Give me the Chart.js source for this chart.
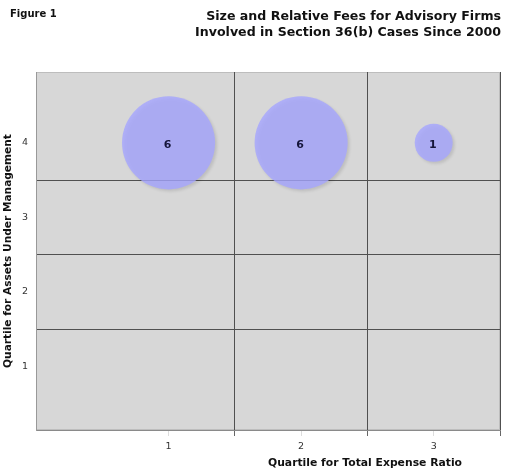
<!DOCTYPE html>
<html>
<head>
<meta charset="utf-8">
<script src="https://cdn.jsdelivr.net/npm/chart.js@4/dist/chart.umd.min.js"></script>
<style>
  body { margin: 0; background: #fff; }
  canvas { display: block; }
</style>
</head>
<body>
<canvas id="bubbleChart" width="505" height="471"></canvas>
<script>
// chart data
const expenseQuartiles = [1, 2, 3];
const assetQuartiles = [4, 4, 4];
const firmCounts = [6, 6, 1];
const xTickValues = [1, 1.5, 2, 2.5, 3, 3.5];
const yTickValues = [1, 1.5, 2, 2.5, 3, 3.5, 4];
const titleLines = ['Size and Relative Fees for Advisory Firms', 'Involved in Section 36(b) Cases Since 2000'];

const FONT = '"DejaVu Sans", Verdana, sans-serif';

const bubbleData = expenseQuartiles.map((x, i) => ({ x: x, y: assetQuartiles[i], n: firmCounts[i] }));

const isWhole = v => Number.isInteger(v);

// bubble controller that does not push the plot area in to fit big bubbles
class CountBubbleController extends Chart.BubbleController {
    getMaxOverflow() { return 0; }
}
CountBubbleController.id = 'countBubble';
CountBubbleController.defaults = Chart.BubbleController.defaults;
CountBubbleController.overrides = Chart.BubbleController.overrides;
Chart.register(CountBubbleController);

// grey plot background with light outline
const plotBackground = {
    id: 'plotBackground',
    beforeDraw(chart) {
        const { ctx, chartArea: a } = chart;
        ctx.save();
        ctx.fillStyle = '#d7d7d7';
        ctx.fillRect(a.left, a.top, a.right - a.left, a.bottom - a.top);
        ctx.strokeStyle = '#bdbdbd';
        ctx.lineWidth = 1;
        ctx.strokeRect(a.left + 0.5, a.top + 0.5, a.right - a.left - 1, a.bottom - a.top - 1);
        ctx.restore();
    }
};

// soft shadow under the bubbles + count labels
const bubbleExtras = {
    id: 'bubbleExtras',
    beforeDatasetsDraw(chart) {
        const ctx = chart.ctx;
        ctx.save();
        ctx.shadowColor = 'rgba(0,0,0,0.14)';
        ctx.shadowBlur = 3;
        ctx.shadowOffsetX = 2;
        ctx.shadowOffsetY = 2;
    },
    afterDatasetsDraw(chart) {
        const ctx = chart.ctx;
        ctx.restore();
        const meta = chart.getDatasetMeta(0);
        ctx.save();
        ctx.font = 'bold 11px ' + FONT;
        ctx.fillStyle = '#15153a';
        ctx.textAlign = 'center';
        ctx.textBaseline = 'middle';
        meta.data.forEach((el, i) => {
            ctx.fillText(String(firmCounts[i]), el.x - 1, el.y + 2);
        });
        ctx.restore();
    },
    afterDraw(chart) {
        const ctx = chart.ctx;
        ctx.save();
        ctx.fillStyle = '#111';
        ctx.textBaseline = 'middle';
        ctx.font = 'bold 10px ' + FONT;
        ctx.textAlign = 'left';
        ctx.fillText('Figure 1', 10, 14);
        ctx.font = 'bold 10.8px ' + FONT;
        ctx.textAlign = 'center';
        ctx.fillText('Quartile for Total Expense Ratio', 365, 463);
        ctx.restore();
    }
};

const chart = new Chart(document.getElementById('bubbleChart'), {
    type: 'countBubble',
    data: {
        datasets: [{
            data: bubbleData,
            backgroundColor: 'rgba(165, 165, 255, 0.8)',
            borderWidth: 0,
            radius: ctx => 19 * Math.sqrt(ctx.raw.n),
            hoverRadius: 0
        }]
    },
    options: {
        responsive: false,
        animation: false,
        layout: { padding: { left: 0, right: 4, top: 0, bottom: 0 } },
        scales: {
            x: {
                type: 'linear',
                min: 0,
                max: 3.5,
                afterFit: s => { s.height = 41; },
                afterBuildTicks: s => { s.ticks = xTickValues.map(v => ({ value: v })); },
                ticks: {
                    autoSkip: false,
                    maxRotation: 0,
                    padding: 5,
                    color: '#333',
                    font: { family: FONT, size: 9.5 },
                    callback: v => isWhole(v) ? String(v) : ''
                },
                grid: {
                    color: c => (c.tick && isWhole(c.tick.value)) ? 'transparent' : '#505050',
                    tickColor: c => (c.tick && isWhole(c.tick.value)) ? '#dddddd' : '#666',
                    tickLength: 6,
                    lineWidth: 1
                },
                border: { color: '#8a8a8a' }
            },
            y: {
                type: 'linear',
                min: 0.15,
                max: 4.95,
                afterFit: s => { s.width = 36; },
                afterBuildTicks: s => { s.ticks = yTickValues.map(v => ({ value: v })); },
                ticks: {
                    autoSkip: false,
                    padding: 8,
                    color: '#333',
                    font: { family: FONT, size: 9.5 },
                    callback: v => isWhole(v) ? String(v) : ''
                },
                grid: {
                    color: c => (c.tick && isWhole(c.tick.value)) ? 'transparent' : '#505050',
                    drawTicks: false,
                    lineWidth: 1
                },
                border: { color: '#999' },
                title: {
                    display: true,
                    text: 'Quartile for Assets Under Management',
                    color: '#111',
                    font: { family: FONT, size: 10.6, weight: 'bold' },
                    padding: { top: 2, bottom: 0 }
                }
            }
        },
        plugins: {
            legend: { display: false },
            tooltip: { enabled: false },
            title: {
                display: true,
                align: 'end',
                text: titleLines,
                color: '#111',
                font: { family: FONT, size: 12.6, weight: 'bold', lineHeight: 1.27 },
                padding: { top: 9, bottom: 31 }
            }
        }
    },
    plugins: [plotBackground, bubbleExtras]
});
</script>
</body>
</html>
